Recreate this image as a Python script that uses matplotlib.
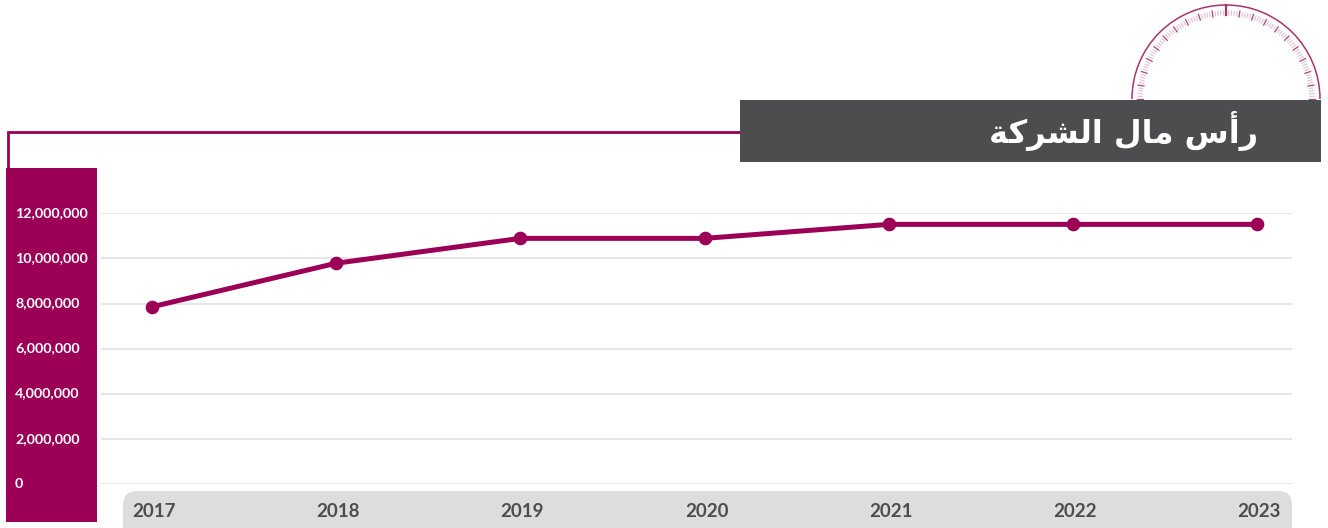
import numpy as np
import matplotlib
matplotlib.use('Agg')
import matplotlib.pyplot as plt
from matplotlib.patches import Rectangle, FancyBboxPatch, Arc
from matplotlib.transforms import ScaledTranslation

years = [2017, 2018, 2019, 2020, 2021, 2022, 2023]
capital = [7860000, 9790000, 10890000, 10890000, 11510000, 11510000, 11510000]
y_ticks = [0, 2000000, 4000000, 6000000, 8000000, 10000000, 12000000]
# presentation forms in visual order, matplotlib does no arabic shaping
titulo = '\uFE94\uFEDB\uFEAE\uFEB8\uFEDF\uFE8D \uFEDD\uFE8E\uFEE3 \uFEB1\uFE83\uFEAD'

VINHO = '#9B0056'
CINZA = '#4D4D4F'
W, H = 1328, 528

plt.rcParams['font.family'] = ['Lato', 'DejaVu Sans']
fig = plt.figure(figsize=(W / 100, H / 100), dpi=100, facecolor='white')

# fundo em pixels
bg = fig.add_axes([0, 0, 1, 1], zorder=0)
bg.set_xlim(0, W)
bg.set_ylim(H, 0)
bg.axis('off')

bg.plot([7.5, 7.5, 740], [168, 132, 132], color=VINHO, lw=2, solid_joinstyle='miter')
bg.add_patch(Rectangle((6, 168), 91, 354, color=VINHO, lw=0))
bg.add_patch(FancyBboxPatch((135, 503), 1145, 40, boxstyle='round,pad=12,rounding_size=14',
                            fc='#DCDDDE', ec='none', clip_on=True))

# medidor
cx, cy, r = 1226, 99, 94
bg.add_patch(Arc((cx, cy), 2 * r, 2 * r, theta1=180, theta2=360, color='#A8336F', lw=1.1))
for i in range(101):
    ang = np.radians(i * 1.8)
    if i == 50:
        ini, fim, cor, lw = 0, 10, '#A8336F', 1.6
    elif i % 5 == 0:
        ini, fim, cor, lw = 5, 11, '#A8437C', 0.9
    else:
        ini, fim, cor, lw = 6, 10, '#E3BDD2', 0.8
    c, s = np.cos(ang), np.sin(ang)
    bg.plot([cx + (r - ini) * c, cx + (r - fim) * c], [cy - (r - ini) * s, cy - (r - fim) * s], color=cor, lw=lw)

bg.add_patch(Rectangle((740, 100), 581, 62, color=CINZA, lw=0, zorder=5))
bg.text(1258, 131, titulo, color='white', fontsize=23, fontweight='bold', ha='right', va='center',
        family='DejaVu Sans', zorder=6)

# grafico
esq, dir_, topo, base = 101, 1292, 213.3, 484.3
ax = fig.add_axes([esq / W, 1 - base / H, (dir_ - esq) / W, (base - topo) / H], zorder=1)
ax.patch.set_alpha(0)
ax.plot(years, capital, color=VINHO, lw=3.6, marker='o', ms=8.8, clip_on=False, zorder=3)
ax.set_xlim(2016.723, 2023.189)
ax.set_ylim(0, 12000000)
ax.set_xticks(years)
ax.set_xticklabels([str(a) for a in years], fontsize=13.5, fontweight='bold', color=CINZA)
ax.set_yticks(y_ticks)
ax.set_yticklabels([f'{v:,}' for v in y_ticks], fontsize=10.3, fontweight='bold', color='white', ha='left')
ax.tick_params(axis='x', length=0, pad=13.5)
ax.tick_params(axis='y', length=0, pad=61.9)
ax.grid(axis='y', color='#DEDFE0', lw=1.1)
ax.set_axisbelow(True)
for s in ax.spines.values():
    s.set_visible(False)

# pequenos ajustes dos rotulos
for lab in ax.get_yticklabels():
    lab.set_transform(lab.get_transform() + ScaledTranslation(0, 1.5 / 100, fig.dpi_scale_trans))
for lab in ax.get_xticklabels():
    lab.set_transform(lab.get_transform() + ScaledTranslation(2 / 100, 0, fig.dpi_scale_trans))

fig.savefig('out.png', dpi=100)
